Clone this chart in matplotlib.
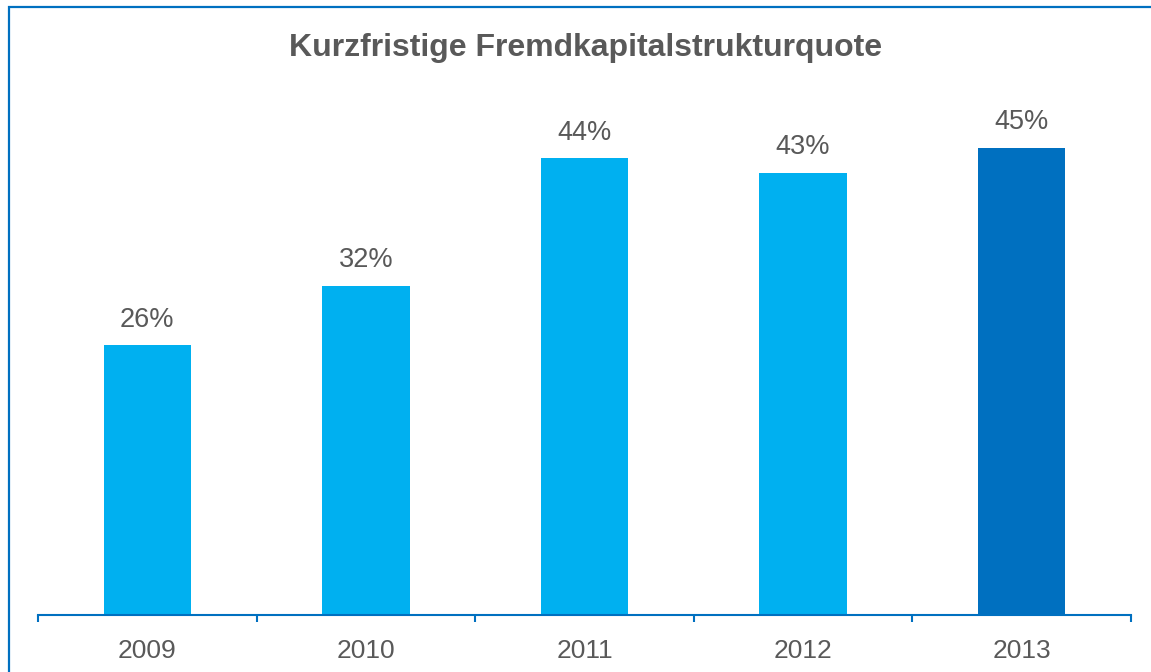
import matplotlib
matplotlib.use('Agg')
import matplotlib.pyplot as plt
from matplotlib.patches import Rectangle

# data
years = ['2009', '2010', '2011', '2012', '2013']
quote = [26.0, 31.7, 44.0, 42.6, 45.0]
bar_colors = ['#00B0F0', '#00B0F0', '#00B0F0', '#00B0F0', '#0070C0']

plt.rcParams['font.family'] = ['Liberation Sans', 'DejaVu Sans']
text_gray = '#595959'
line_blue = '#0070C0'

fig = plt.figure(figsize=(11.51, 6.72), dpi=100)
ax = fig.add_axes([38 / 1151, 57 / 672, (1131 - 38) / 1151, 519 / 672])

x = list(range(len(years)))
ax.bar(x, quote, width=0.4, color=bar_colors, zorder=2)
for xi, v in zip(x, quote):
  ax.annotate(f'{v:.0f}%', (xi, v), xytext=(0, 9), textcoords='offset points',
              ha='center', va='bottom', fontsize=19.5, color=text_gray)

ax.set_xlim(-0.5, len(years) - 0.5)
ax.set_ylim(0, 50)
ax.set_yticks([])
ax.set_xticks(x)
ax.set_xticklabels(years, fontsize=19, color=text_gray)
ax.set_xticks([i - 0.5 for i in range(len(years) + 1)], minor=True)
ax.tick_params(axis='x', which='major', length=0, pad=17)
ax.tick_params(axis='x', which='minor', length=5, width=1.5, color=line_blue)
for side in ['top', 'right', 'left']:
  ax.spines[side].set_visible(False)
ax.spines['bottom'].set_color(line_blue)
ax.spines['bottom'].set_linewidth(1.5)

fig.text(586 / 1151, 1 - 48 / 672, 'Kurzfristige Fremdkapitalstrukturquote',
         ha='center', va='center', fontsize=23, fontweight='bold', color=text_gray)

# outer frame (only top and left edges show in the crop)
fig.add_artist(Rectangle((8.5 / 1151, -0.2), 1.2, 1.2 - 7.5 / 672,
                         transform=fig.transFigure, fill=False,
                         edgecolor=line_blue, linewidth=1.6, clip_on=False))

fig.savefig('out.png', dpi=100)
